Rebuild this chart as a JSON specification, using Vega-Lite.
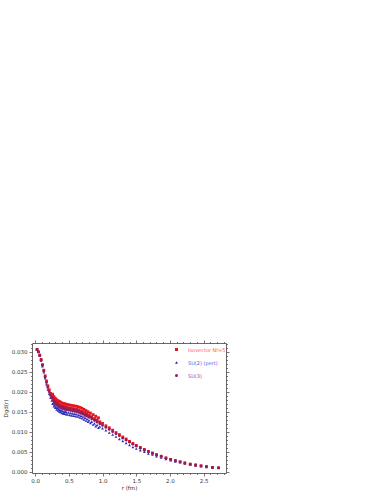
{
"$schema": "https://vega.github.io/schema/vega-lite/v6.json",
"width": 194, "height": 130,
"padding": {"left": 3, "top": 339, "right": 5, "bottom": 2},
"background": "white",
"config": {
 "view": {"stroke": "#666", "strokeWidth": 1},
 "axis": {"labelFont": "DejaVu Sans", "labelFontSize": 5.5, "labelColor": "#333", "tickColor": "#555", "tickWidth": 0.8, "titleFont": "DejaVu Sans", "titleFontSize": 5.5, "titleFontWeight": "normal", "titleColor": "#333", "grid": false, "domain": false, "labelPadding": 2},
 "legend": {"labelFont": "DejaVu Sans"}
},
"data": {"values": [
{"r":0.03,"D":0.0306,"s":"su2"},{"r":0.05,"D":0.0300,"s":"su2"},{"r":0.07,"D":0.0290,"s":"su2"},{"r":0.09,"D":0.0278,"s":"su2"},{"r":0.11,"D":0.0264,"s":"su2"},{"r":0.13,"D":0.0249,"s":"su2"},{"r":0.15,"D":0.0234,"s":"su2"},{"r":0.17,"D":0.0219,"s":"su2"},{"r":0.19,"D":0.0206,"s":"su2"},{"r":0.21,"D":0.0195,"s":"su2"},{"r":0.23,"D":0.0186,"s":"su2"},{"r":0.25,"D":0.0178,"s":"su2"},{"r":0.27,"D":0.0172,"s":"su2"},{"r":0.29,"D":0.0167,"s":"su2"},{"r":0.31,"D":0.0163,"s":"su2"},{"r":0.33,"D":0.0160,"s":"su2"},{"r":0.35,"D":0.0157,"s":"su2"},{"r":0.37,"D":0.0155,"s":"su2"},{"r":0.39,"D":0.0153,"s":"su2"},{"r":0.41,"D":0.0152,"s":"su2"},{"r":0.43,"D":0.0151,"s":"su2"},{"r":0.45,"D":0.0150,"s":"su2"},{"r":0.47,"D":0.0149,"s":"su2"},{"r":0.50,"D":0.0148,"s":"su2"},{"r":0.53,"D":0.0147,"s":"su2"},{"r":0.56,"D":0.0146,"s":"su2"},{"r":0.59,"D":0.0145,"s":"su2"},{"r":0.62,"D":0.0144,"s":"su2"},{"r":0.65,"D":0.0142,"s":"su2"},{"r":0.68,"D":0.0140,"s":"su2"},{"r":0.71,"D":0.0138,"s":"su2"},{"r":0.74,"D":0.0135,"s":"su2"},{"r":0.77,"D":0.0132,"s":"su2"},{"r":0.80,"D":0.0129,"s":"su2"},{"r":0.84,"D":0.0125,"s":"su2"},{"r":0.88,"D":0.0121,"s":"su2"},{"r":0.92,"D":0.0117,"s":"su2"},{"r":0.96,"D":0.0113,"s":"su2"},{"r":1.00,"D":0.0109,"s":"su2"},{"r":1.05,"D":0.0104,"s":"su2"},{"r":1.10,"D":0.0098,"s":"su2"},{"r":1.15,"D":0.0093,"s":"su2"},{"r":1.20,"D":0.0088,"s":"su2"},{"r":1.25,"D":0.0082,"s":"su2"},{"r":1.30,"D":0.0077,"s":"su2"},{"r":1.35,"D":0.0072,"s":"su2"},{"r":1.40,"D":0.0067,"s":"su2"},{"r":1.45,"D":0.0062,"s":"su2"},{"r":1.50,"D":0.0058,"s":"su2"},{"r":1.56,"D":0.0054,"s":"su2"},{"r":1.62,"D":0.0050,"s":"su2"},{"r":1.68,"D":0.0046,"s":"su2"},{"r":1.74,"D":0.0043,"s":"su2"},{"r":1.80,"D":0.0039,"s":"su2"},{"r":1.87,"D":0.0036,"s":"su2"},{"r":1.94,"D":0.0032,"s":"su2"},{"r":2.01,"D":0.0029,"s":"su2"},{"r":2.08,"D":0.0026,"s":"su2"},{"r":2.15,"D":0.0024,"s":"su2"},{"r":2.22,"D":0.0021,"s":"su2"},{"r":2.30,"D":0.0018,"s":"su2"},{"r":2.38,"D":0.0016,"s":"su2"},{"r":2.46,"D":0.0014,"s":"su2"},{"r":2.54,"D":0.0012,"s":"su2"},{"r":2.63,"D":0.0011,"s":"su2"},{"r":2.72,"D":0.0010,"s":"su2"},
{"r":0.26,"D":0.0170,"s":"su2"},{"r":0.28,"D":0.0164,"s":"su2"},{"r":0.30,"D":0.0160,"s":"su2"},{"r":0.32,"D":0.0156,"s":"su2"},{"r":0.34,"D":0.0153,"s":"su2"},{"r":0.36,"D":0.0151,"s":"su2"},{"r":0.38,"D":0.0149,"s":"su2"},{"r":0.40,"D":0.0147,"s":"su2"},{"r":0.42,"D":0.0146,"s":"su2"},{"r":0.44,"D":0.0145,"s":"su2"},{"r":0.46,"D":0.0144,"s":"su2"},{"r":0.485,"D":0.0143,"s":"su2"},{"r":0.515,"D":0.0142,"s":"su2"},{"r":0.545,"D":0.0141,"s":"su2"},{"r":0.575,"D":0.0140,"s":"su2"},{"r":0.605,"D":0.0139,"s":"su2"},{"r":0.635,"D":0.0138,"s":"su2"},{"r":0.665,"D":0.0136,"s":"su2"},{"r":0.695,"D":0.0134,"s":"su2"},{"r":0.725,"D":0.0131,"s":"su2"},{"r":0.755,"D":0.0128,"s":"su2"},{"r":0.785,"D":0.0125,"s":"su2"},{"r":0.82,"D":0.0122,"s":"su2"},{"r":0.86,"D":0.0118,"s":"su2"},{"r":0.90,"D":0.0114,"s":"su2"},{"r":0.94,"D":0.0110,"s":"su2"},
{"r":0.03,"D":0.0306,"s":"iso"},{"r":0.05,"D":0.0300,"s":"iso"},{"r":0.07,"D":0.0292,"s":"iso"},{"r":0.09,"D":0.0281,"s":"iso"},{"r":0.11,"D":0.0268,"s":"iso"},{"r":0.13,"D":0.0254,"s":"iso"},{"r":0.15,"D":0.0240,"s":"iso"},{"r":0.17,"D":0.0227,"s":"iso"},{"r":0.19,"D":0.0215,"s":"iso"},{"r":0.21,"D":0.0205,"s":"iso"},{"r":0.23,"D":0.0196,"s":"iso"},{"r":0.25,"D":0.0189,"s":"iso"},{"r":0.27,"D":0.0183,"s":"iso"},{"r":0.29,"D":0.0178,"s":"iso"},{"r":0.31,"D":0.0174,"s":"iso"},{"r":0.33,"D":0.0171,"s":"iso"},{"r":0.35,"D":0.0169,"s":"iso"},{"r":0.37,"D":0.0167,"s":"iso"},{"r":0.39,"D":0.0165,"s":"iso"},{"r":0.41,"D":0.0164,"s":"iso"},{"r":0.43,"D":0.0163,"s":"iso"},{"r":0.45,"D":0.0162,"s":"iso"},{"r":0.47,"D":0.0161,"s":"iso"},{"r":0.50,"D":0.0160,"s":"iso"},{"r":0.53,"D":0.0159,"s":"iso"},{"r":0.56,"D":0.0158,"s":"iso"},{"r":0.59,"D":0.0157,"s":"iso"},{"r":0.62,"D":0.0156,"s":"iso"},{"r":0.65,"D":0.0154,"s":"iso"},{"r":0.68,"D":0.0152,"s":"iso"},{"r":0.71,"D":0.0150,"s":"iso"},{"r":0.74,"D":0.0147,"s":"iso"},{"r":0.77,"D":0.0144,"s":"iso"},{"r":0.80,"D":0.0141,"s":"iso"},{"r":0.84,"D":0.0137,"s":"iso"},{"r":0.88,"D":0.0133,"s":"iso"},{"r":0.92,"D":0.0129,"s":"iso"},{"r":0.96,"D":0.0125,"s":"iso"},{"r":1.00,"D":0.0121,"s":"iso"},{"r":1.05,"D":0.0115,"s":"iso"},{"r":1.10,"D":0.0110,"s":"iso"},{"r":1.15,"D":0.0104,"s":"iso"},{"r":1.20,"D":0.0098,"s":"iso"},{"r":1.25,"D":0.0093,"s":"iso"},{"r":1.30,"D":0.0087,"s":"iso"},{"r":1.35,"D":0.0082,"s":"iso"},{"r":1.40,"D":0.0076,"s":"iso"},{"r":1.45,"D":0.0071,"s":"iso"},{"r":1.50,"D":0.0066,"s":"iso"},{"r":1.56,"D":0.0061,"s":"iso"},{"r":1.62,"D":0.0056,"s":"iso"},{"r":1.68,"D":0.0051,"s":"iso"},{"r":1.74,"D":0.0047,"s":"iso"},{"r":1.80,"D":0.0043,"s":"iso"},{"r":1.87,"D":0.0039,"s":"iso"},{"r":1.94,"D":0.0035,"s":"iso"},{"r":2.01,"D":0.0031,"s":"iso"},{"r":2.08,"D":0.0028,"s":"iso"},{"r":2.15,"D":0.0025,"s":"iso"},{"r":2.22,"D":0.0022,"s":"iso"},{"r":2.30,"D":0.0019,"s":"iso"},{"r":2.38,"D":0.0017,"s":"iso"},{"r":2.46,"D":0.0015,"s":"iso"},{"r":2.54,"D":0.0013,"s":"iso"},{"r":2.63,"D":0.0011,"s":"iso"},{"r":2.72,"D":0.0010,"s":"iso"},
{"r":0.26,"D":0.0194,"s":"iso"},{"r":0.28,"D":0.0188,"s":"iso"},{"r":0.30,"D":0.0184,"s":"iso"},{"r":0.32,"D":0.0180,"s":"iso"},{"r":0.34,"D":0.0178,"s":"iso"},{"r":0.36,"D":0.0176,"s":"iso"},{"r":0.38,"D":0.0174,"s":"iso"},{"r":0.40,"D":0.0172,"s":"iso"},{"r":0.42,"D":0.0171,"s":"iso"},{"r":0.44,"D":0.0170,"s":"iso"},{"r":0.46,"D":0.0169,"s":"iso"},{"r":0.485,"D":0.0168,"s":"iso"},{"r":0.515,"D":0.0167,"s":"iso"},{"r":0.545,"D":0.0166,"s":"iso"},{"r":0.575,"D":0.0165,"s":"iso"},{"r":0.605,"D":0.0164,"s":"iso"},{"r":0.635,"D":0.0163,"s":"iso"},{"r":0.665,"D":0.0161,"s":"iso"},{"r":0.695,"D":0.0159,"s":"iso"},{"r":0.725,"D":0.0156,"s":"iso"},{"r":0.755,"D":0.0153,"s":"iso"},{"r":0.785,"D":0.0150,"s":"iso"},{"r":0.82,"D":0.0147,"s":"iso"},{"r":0.86,"D":0.0143,"s":"iso"},{"r":0.90,"D":0.0139,"s":"iso"},{"r":0.94,"D":0.0135,"s":"iso"},
{"r":0.03,"D":0.0306,"s":"su3"},{"r":0.05,"D":0.0300,"s":"su3"},{"r":0.07,"D":0.0291,"s":"su3"},{"r":0.09,"D":0.0279,"s":"su3"},{"r":0.11,"D":0.0266,"s":"su3"},{"r":0.13,"D":0.0252,"s":"su3"},{"r":0.15,"D":0.0237,"s":"su3"},{"r":0.17,"D":0.0223,"s":"su3"},{"r":0.19,"D":0.0211,"s":"su3"},{"r":0.21,"D":0.0200,"s":"su3"},{"r":0.23,"D":0.0191,"s":"su3"},{"r":0.25,"D":0.0184,"s":"su3"},{"r":0.27,"D":0.0178,"s":"su3"},{"r":0.29,"D":0.0173,"s":"su3"},{"r":0.31,"D":0.0169,"s":"su3"},{"r":0.33,"D":0.0166,"s":"su3"},{"r":0.35,"D":0.0163,"s":"su3"},{"r":0.37,"D":0.0161,"s":"su3"},{"r":0.39,"D":0.0159,"s":"su3"},{"r":0.41,"D":0.0158,"s":"su3"},{"r":0.43,"D":0.0157,"s":"su3"},{"r":0.45,"D":0.0156,"s":"su3"},{"r":0.47,"D":0.0155,"s":"su3"},{"r":0.50,"D":0.0154,"s":"su3"},{"r":0.53,"D":0.0153,"s":"su3"},{"r":0.56,"D":0.0152,"s":"su3"},{"r":0.59,"D":0.0151,"s":"su3"},{"r":0.62,"D":0.0150,"s":"su3"},{"r":0.65,"D":0.0148,"s":"su3"},{"r":0.68,"D":0.0146,"s":"su3"},{"r":0.71,"D":0.0144,"s":"su3"},{"r":0.74,"D":0.0141,"s":"su3"},{"r":0.77,"D":0.0139,"s":"su3"},{"r":0.80,"D":0.0136,"s":"su3"},{"r":0.84,"D":0.0132,"s":"su3"},{"r":0.88,"D":0.0128,"s":"su3"},{"r":0.92,"D":0.0124,"s":"su3"},{"r":0.96,"D":0.0120,"s":"su3"},{"r":1.00,"D":0.0116,"s":"su3"},{"r":1.05,"D":0.0111,"s":"su3"},{"r":1.10,"D":0.0106,"s":"su3"},{"r":1.15,"D":0.0100,"s":"su3"},{"r":1.20,"D":0.0095,"s":"su3"},{"r":1.25,"D":0.0090,"s":"su3"},{"r":1.30,"D":0.0084,"s":"su3"},{"r":1.35,"D":0.0079,"s":"su3"},{"r":1.40,"D":0.0074,"s":"su3"},{"r":1.45,"D":0.0069,"s":"su3"},{"r":1.50,"D":0.0064,"s":"su3"},{"r":1.56,"D":0.0059,"s":"su3"},{"r":1.62,"D":0.0054,"s":"su3"},{"r":1.68,"D":0.0050,"s":"su3"},{"r":1.74,"D":0.0046,"s":"su3"},{"r":1.80,"D":0.0042,"s":"su3"},{"r":1.87,"D":0.0038,"s":"su3"},{"r":1.94,"D":0.0034,"s":"su3"},{"r":2.01,"D":0.0031,"s":"su3"},{"r":2.08,"D":0.0028,"s":"su3"},{"r":2.15,"D":0.0025,"s":"su3"},{"r":2.22,"D":0.0022,"s":"su3"},{"r":2.30,"D":0.0019,"s":"su3"},{"r":2.38,"D":0.0017,"s":"su3"},{"r":2.46,"D":0.0015,"s":"su3"},{"r":2.54,"D":0.0013,"s":"su3"},{"r":2.63,"D":0.0011,"s":"su3"},{"r":2.72,"D":0.0010,"s":"su3"},
{"r":0.26,"D":0.0185,"s":"su3"},{"r":0.30,"D":0.0175,"s":"su3"},{"r":0.34,"D":0.0169,"s":"su3"},{"r":0.38,"D":0.0164,"s":"su3"},{"r":0.42,"D":0.0162,"s":"su3"},{"r":0.46,"D":0.0160,"s":"su3"},{"r":0.515,"D":0.0158,"s":"su3"},{"r":0.575,"D":0.0156,"s":"su3"},{"r":0.635,"D":0.0153,"s":"su3"},{"r":0.695,"D":0.0149,"s":"su3"},{"r":0.755,"D":0.0144,"s":"su3"},{"r":0.82,"D":0.0138,"s":"su3"},{"r":0.90,"D":0.0130,"s":"su3"}
]},
"layer": [
 {"mark": {"type": "point", "filled": true, "size": 8, "opacity": 1},
  "encoding": {
   "x": {"field": "r", "type": "quantitative", "scale": {"domain": [-0.045, 2.83], "nice": false, "zero": false},
         "axis": {"orient": "bottom", "values": [0, 0.5, 1, 1.5, 2, 2.5], "format": ".1f", "title": "r (fm)", "tickSize": 3, "titlePadding": 2}},
   "y": {"field": "D", "type": "quantitative", "scale": {"domain": [-0.0003, 0.0322], "nice": false, "zero": false},
         "axis": {"orient": "left", "values": [0, 0.005, 0.01, 0.015, 0.02, 0.025, 0.03], "format": ".3f", "title": "Dgd(r)", "tickSize": 3, "titlePadding": 3}},
   "color": {"field": "s", "type": "nominal", "scale": {"domain": ["iso", "su2", "su3"], "range": ["#e8141c", "#2a2ab8", "#8b2060"]},
     "legend": {"orient": "none", "legendX": 142, "legendY": 4, "title": null, "symbolSize": 9, "labelFontSize": 5, "rowPadding": 7, "labelOffset": 9,
       "labelExpr": "datum.value == 'iso' ? 'Isovector Nf=5' : datum.value == 'su2' ? 'SU(2) (pert)' : 'SU(3)'",
       "labelColor": {"expr": "datum.value == 'iso' ? '#ff5a5a' : datum.value == 'su2' ? '#5a5ad8' : '#a05078'"}}},
   "shape": {"field": "s", "type": "nominal", "scale": {"domain": ["iso", "su2", "su3"], "range": ["square", "triangle-up", "circle"]}}
  }},
 {"mark": {"type": "point", "opacity": 0},
  "encoding": {
   "x": {"field": "r", "type": "quantitative", "axis": {"orient": "bottom", "values": [0.1,0.2,0.3,0.4,0.6,0.7,0.8,0.9,1.1,1.2,1.3,1.4,1.6,1.7,1.8,1.9,2.1,2.2,2.3,2.4,2.6,2.7,2.8], "labels": false, "title": null, "tickSize": 1.5}},
   "y": {"field": "D", "type": "quantitative", "axis": {"orient": "left", "values": [0.001,0.002,0.003,0.004,0.006,0.007,0.008,0.009,0.011,0.012,0.013,0.014,0.016,0.017,0.018,0.019,0.021,0.022,0.023,0.024,0.026,0.027,0.028,0.029,0.031,0.032], "labels": false, "title": null, "tickSize": 1.5}}
  }},
 {"mark": {"type": "point", "opacity": 0},
  "encoding": {
   "x": {"field": "r", "type": "quantitative", "axis": {"orient": "top", "values": [0, 0.5, 1, 1.5, 2, 2.5], "labels": false, "title": null, "tickSize": 3}},
   "y": {"field": "D", "type": "quantitative", "axis": {"orient": "right", "values": [0, 0.005, 0.01, 0.015, 0.02, 0.025, 0.03], "labels": false, "title": null, "tickSize": 3}}
  }},
 {"mark": {"type": "point", "opacity": 0},
  "encoding": {
   "x": {"field": "r", "type": "quantitative", "axis": {"orient": "top", "values": [0.1,0.2,0.3,0.4,0.6,0.7,0.8,0.9,1.1,1.2,1.3,1.4,1.6,1.7,1.8,1.9,2.1,2.2,2.3,2.4,2.6,2.7,2.8], "labels": false, "title": null, "tickSize": 1.5}},
   "y": {"field": "D", "type": "quantitative", "axis": {"orient": "right", "values": [0.001,0.002,0.003,0.004,0.006,0.007,0.008,0.009,0.011,0.012,0.013,0.014,0.016,0.017,0.018,0.019,0.021,0.022,0.023,0.024,0.026,0.027,0.028,0.029,0.031,0.032], "labels": false, "title": null, "tickSize": 1.5}}
  }}
],
"resolve": {"axis": {"x": "independent", "y": "independent"}}
}
